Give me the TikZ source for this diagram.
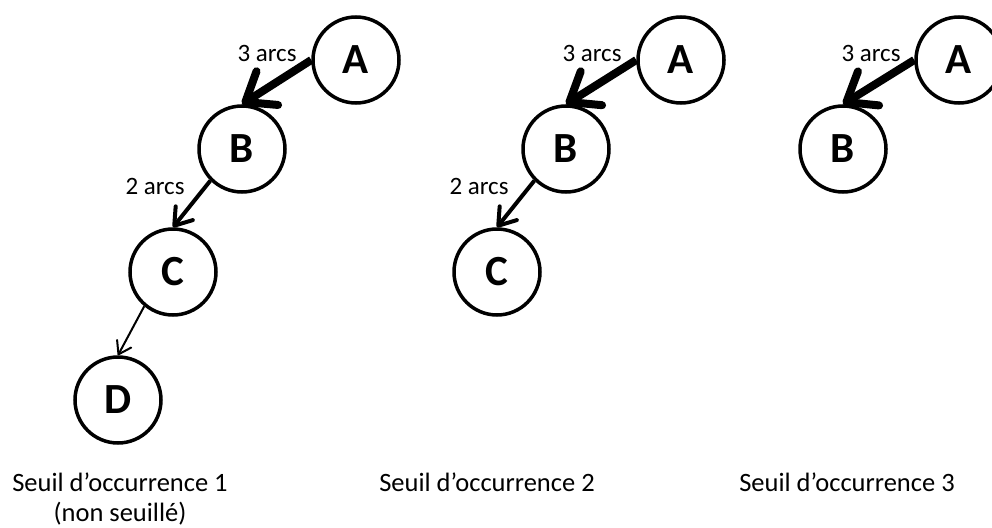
\documentclass[tikz,border=0pt]{standalone}
\usepackage{fontspec}
\setmainfont{Carlito}
\usetikzlibrary{arrows.meta}
\begin{document}
\begin{tikzpicture}[x=1pt,y=-1pt,
  vtx/.style={circle,draw,line width=3.5pt,minimum size=86pt,inner sep=0pt,font=\fontsize{43}{45}\selectfont\bfseries},
  lbl/.style={font=\fontsize{25}{30}\selectfont,inner sep=0pt},
  capt/.style={font=\fontsize{26.5}{30}\selectfont,align=center,inner sep=0pt,anchor=base},
  ethree/.style={line width=8pt,-{Straight Barb[length=26pt,width=40pt,round]}},
  etwo/.style={line width=4pt,-{Straight Barb[length=16pt,width=22pt,round]}},
  eone/.style={line width=2pt,-{Straight Barb[length=12pt,width=16pt,round]}}]
\useasboundingbox (0,0) rectangle (992,527);
% group 1
\node[vtx] (A1) at (356,60) {A};
\node[vtx] (B1) at (242,149) {B};
\node[vtx] (C1) at (173,272) {C};
\node[vtx] (D1) at (118,400) {D};
\draw[ethree] (A1.west) -- (B1.north);
\draw[etwo] (B1.225) -- (C1.north);
\draw[eone] (C1.230) -- (D1.north);
\node[lbl] (l31) at (267,53) {3 arcs};
\node[lbl] (l21) at (155,186) {2 arcs};
\node[capt] (s1) at (120,521) {Seuil d’occurrence 1\\(non seuillé)};
% group 2
\node[vtx] (A2) at (681,60) {A};
\node[vtx] (B2) at (566,149) {B};
\node[vtx] (C2) at (497,272) {C};
\draw[ethree] (A2.west) -- (B2.north);
\draw[etwo] (B2.225) -- (C2.north);
\node[lbl] (l32) at (592,53) {3 arcs};
\node[lbl] (l22) at (479,186) {2 arcs};
\node[capt] (s2) at (487,491) {Seuil d’occurrence 2};
% group 3
\node[vtx] (A3) at (959,60) {A};
\node[vtx] (B3) at (843,149) {B};
\draw[ethree] (A3.west) -- (B3.north);
\node[lbl] (l33) at (871,53) {3 arcs};
\node[capt] (s3) at (847,491) {Seuil d’occurrence 3};
\end{tikzpicture}
\end{document}
